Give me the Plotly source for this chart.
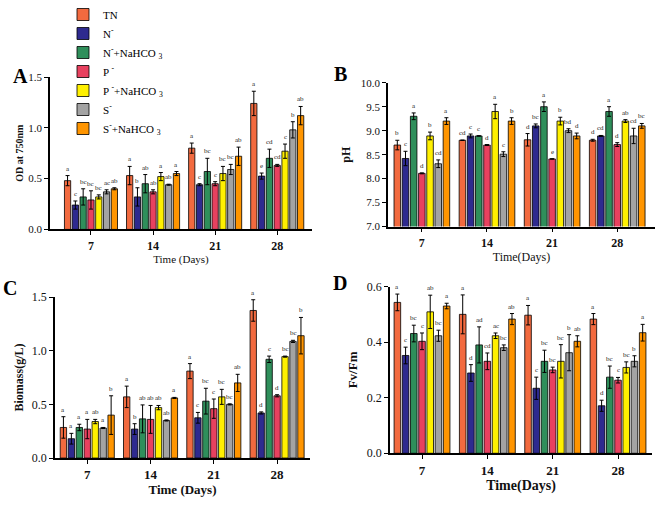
import plotly.graph_objects as go
from plotly.subplots import make_subplots

W, H = 660, 506

DAYS = ["7", "14", "21", "28"]
TREATMENTS = [
    "TN",
    "N<sup>-</sup>",
    "N<sup>-</sup>+NaHCO <sub>3</sub>",
    "P <sup>-</sup>",
    "P <sup>-</sup>+NaHCO <sub>3</sub>",
    "S<sup>-</sup>",
    "S<sup>-</sup>+NaHCO <sub>3</sub>",
]
COLORS = ["#F26A3F", "#2E2A8F", "#2F8F5B", "#E8415F", "#FFF000", "#A3A3A3", "#FF9500"]

# panel A: OD at 750 nm, one row per treatment, one value per day
OD_MEAN = [
    [0.48, 0.53, 0.80, 1.24],
    [0.24, 0.32, 0.44, 0.525],
    [0.32, 0.45, 0.57, 0.70],
    [0.29, 0.37, 0.45, 0.63],
    [0.32, 0.52, 0.55, 0.77],
    [0.37, 0.44, 0.59, 0.98],
    [0.40, 0.55, 0.72, 1.12],
]
OD_ERR = [
    [0.05, 0.09, 0.05, 0.12],
    [0.04, 0.09, 0.01, 0.03],
    [0.08, 0.09, 0.13, 0.09],
    [0.09, 0.02, 0.02, 0.01],
    [0.02, 0.04, 0.07, 0.07],
    [0.02, 0.005, 0.05, 0.08],
    [0.01, 0.02, 0.09, 0.09],
]
OD_LETTERS = [
    ["a", "a", "a", "a"],
    ["c", "b", "c", "e"],
    ["bc", "ab", "bc", "cd"],
    ["bc", "ab", "c", "cd"],
    ["bc", "a", "bc", "c"],
    ["ac", "ab", "bc", "b"],
    ["ab", "a", "ab", "ab"],
]

# panel B: pH
PH_MEAN = [
    [8.70, 8.80, 8.81, 8.80],
    [8.42, 8.89, 9.10, 8.89],
    [9.30, 8.89, 9.50, 9.40],
    [8.11, 8.70, 8.41, 8.71],
    [8.89, 9.40, 9.20, 9.20],
    [8.31, 8.51, 9.00, 8.89],
    [9.20, 9.20, 8.89, 9.10],
]
PH_ERR = [
    [0.10, 0.005, 0.13, 0.02],
    [0.15, 0.04, 0.04, 0.01],
    [0.07, 0.005, 0.10, 0.10],
    [0.01, 0.01, 0.005, 0.04],
    [0.08, 0.15, 0.08, 0.03],
    [0.08, 0.05, 0.04, 0.16],
    [0.07, 0.07, 0.06, 0.05],
]
PH_LETTERS = [
    ["b", "cd", "d", "d"],
    ["c", "c", "bc", "cd"],
    ["a", "c", "a", "a"],
    ["d", "d", "e", "d"],
    ["b", "a", "b", "ab"],
    ["cd", "c", "bd", "cd"],
    ["a", "b", "d", "bc"],
]

# panel C: biomass (g/L)
BIO_MEAN = [
    [0.285, 0.57, 0.81, 1.375],
    [0.18, 0.27, 0.375, 0.42],
    [0.285, 0.365, 0.53, 0.92],
    [0.27, 0.36, 0.46, 0.58],
    [0.34, 0.47, 0.57, 0.945],
    [0.28, 0.35, 0.50, 1.087],
    [0.40, 0.56, 0.70, 1.14],
]
BIO_ERR = [
    [0.10, 0.10, 0.07, 0.10],
    [0.05, 0.05, 0.05, 0.01],
    [0.03, 0.13, 0.12, 0.03],
    [0.09, 0.13, 0.09, 0.01],
    [0.02, 0.02, 0.07, 0.005],
    [0.005, 0.005, 0.005, 0.01],
    [0.18, 0.005, 0.08, 0.17],
]
BIO_LETTERS = [
    ["a", "a", "a", "a"],
    ["a", "b", "c", "d"],
    ["a", "ab", "bc", "c"],
    ["a", "ab", "c", "d"],
    ["ab", "ab", "bc", "bc"],
    ["a", "ab", "bc", "bc"],
    ["b", "a", "ab", "b"],
]

# panel D: Fv/Fm
FV_MEAN = [
    [0.543, 0.50, 0.497, 0.483],
    [0.352, 0.289, 0.234, 0.171],
    [0.431, 0.39, 0.331, 0.274],
    [0.403, 0.331, 0.30, 0.263],
    [0.509, 0.423, 0.331, 0.309],
    [0.423, 0.38, 0.362, 0.331],
    [0.53, 0.483, 0.403, 0.434],
]
FV_ERR = [
    [0.03, 0.07, 0.035, 0.02],
    [0.03, 0.03, 0.04, 0.02],
    [0.03, 0.065, 0.04, 0.04],
    [0.03, 0.03, 0.01, 0.01],
    [0.06, 0.01, 0.06, 0.02],
    [0.02, 0.01, 0.065, 0.02],
    [0.01, 0.02, 0.02, 0.03],
]
FV_LETTERS = [
    ["a", "a", "a", "a"],
    ["c", "d", "c", "d"],
    ["bc", "ad", "bc", "bc"],
    ["c", "cd", "bc", "c"],
    ["ab", "ac", "bc", "bc"],
    ["bc", "bc", "b", "b"],
    ["a", "ab", "ab", "a"],
]

BARGAP = 0.12
SERIF = "Liberation Serif, Times New Roman, serif"

# (means, errors, letters, y range, y ticks, y title, x title,
#  pixel box left/right/top/bottom, x range, tick size, y title size, x title size, y standoff)
PANELS = [
    (OD_MEAN, OD_ERR, OD_LETTERS, [0, 1.5], [0, 0.5, 1.0, 1.5],
     "<b>OD at 750nm</b>", "Time (Days)", (50, 312, 63, 223), [-0.66, 3.56], 11, 10, 11, 3),
    (PH_MEAN, PH_ERR, PH_LETTERS, [7, 10], [7, 7.5, 8, 8.5, 9, 9.5, 10],
     "<b>pH</b>", "Time(Days)", (388, 655, 69, 220), [-0.52, 3.58], 11, 12, 12, 8),
    (BIO_MEAN, BIO_ERR, BIO_LETTERS, [0, 1.5], [0, 0.5, 1.0, 1.5],
     "<b>Biomass(g/L)</b>", "<b>Time (Days)</b>", (55, 310, 294, 463), [-0.51, 3.52], 12, 12, 13, 6),
    (FV_MEAN, FV_ERR, FV_LETTERS, [0, 0.6], [0, 0.2, 0.4, 0.6],
     "<b>Fv/Fm</b>", "<b>Time(Days)</b>", (390, 652, 283, 458), [-0.49, 3.52], 12, 13, 14, 6),
]

fig = make_subplots(rows=2, cols=2)
n = len(TREATMENTS)
gw = 1 - BARGAP
xs = list(range(len(DAYS)))

for p, (means, errs, letters, yr, yt, ytitle, xtitle, box, xr, fs, yfs, xfs, ystand) in enumerate(PANELS):
    row, col = p // 2 + 1, p % 2 + 1
    xref = "x" if p == 0 else f"x{p + 1}"
    yref = "y" if p == 0 else f"y{p + 1}"
    for i in range(n):
        fig.add_trace(
            go.Bar(
                x=xs, y=means[i], name=TREATMENTS[i],
                marker=dict(color=COLORS[i], line=dict(color="black", width=0.8)),
                error_y=dict(type="data", array=errs[i], color="black", thickness=1, width=2),
                showlegend=(p == 0),
            ),
            row=row, col=col,
        )
        # significance letters above each error bar
        off = -gw / 2 + (i + 0.5) * gw / n
        for d in xs:
            fig.add_annotation(
                x=d + off, y=means[i][d] + errs[i][d], xref=xref, yref=yref,
                text=letters[i][d], showarrow=False, yanchor="bottom", yshift=1,
                font=dict(family=SERIF, size=7, color="#222"),
            )
    l, r, t, b = box
    fig.update_xaxes(
        row=row, col=col, domain=[l / W, r / W], range=xr,
        tickvals=xs, ticktext=[f"<b>{d}</b>" for d in DAYS],
        showline=True, linecolor="black", linewidth=1.5,
        ticks="outside", ticklen=4, tickcolor="black", tickwidth=1.2,
        showgrid=False, zeroline=False,
        tickfont=dict(family=SERIF, size=fs + 1, color="#111"),
        title=dict(text=xtitle, font=dict(family=SERIF, size=xfs, color="#111"), standoff=2),
    )
    fig.update_yaxes(
        row=row, col=col, domain=[1 - b / H, 1 - t / H], range=yr,
        tickvals=yt, tickformat=".1f",
        showline=True, linecolor="black", linewidth=1.5,
        ticks="outside", ticklen=4, tickcolor="black", tickwidth=1.2,
        showgrid=False, zeroline=False,
        tickfont=dict(family=SERIF, size=fs, color="#111"),
        title=dict(text=ytitle, font=dict(family=SERIF, size=yfs, color="#111"), standoff=ystand),
    )

# panel letters
for label, px, py in [("A", 21, 62), ("B", 340, 60), ("C", 10, 284), ("D", 340, 279)]:
    fig.add_annotation(
        x=px / W, y=1 - py / H, xref="paper", yref="paper", text=f"<b>{label}</b>",
        showarrow=False, xanchor="center", yanchor="middle",
        font=dict(family=SERIF, size=20, color="black"),
    )

fig.update_layout(
    width=W, height=H,
    margin=dict(l=0, r=0, t=0, b=0),
    paper_bgcolor="white", plot_bgcolor="white",
    barmode="group", bargap=BARGAP, bargroupgap=0.2,
    legend=dict(
        x=63 / W, y=1.036, xanchor="left", yanchor="top",
        bgcolor="rgba(0,0,0,0)", tracegroupgap=0,
        font=dict(family=SERIF, size=11, color="black"),
    ),
)

# drop the default 8px page margin so the figure sits flush in the window
fig.write_html(
    "out.html",
    config={"displayModeBar": False},
    post_script="document.body.style.margin='0';",
)
